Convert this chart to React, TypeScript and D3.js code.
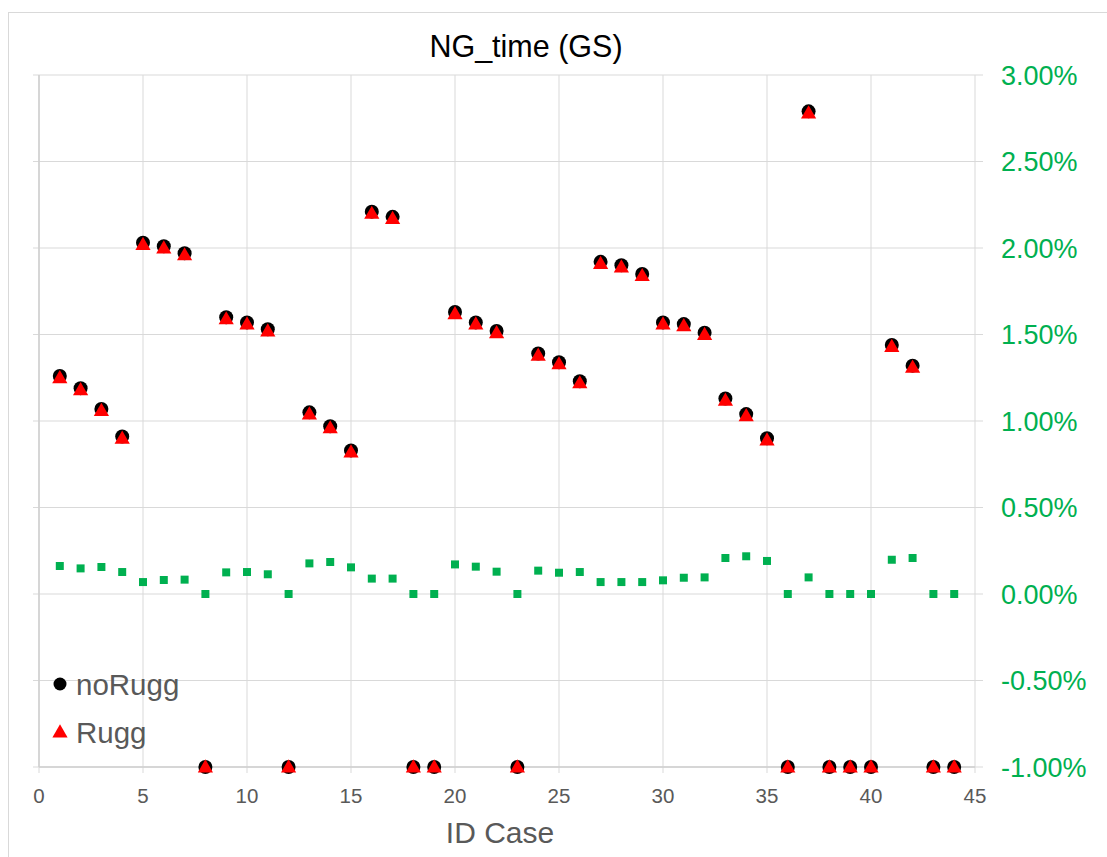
import React from "react";
import * as d3 from "d3";

// Case identifiers 1..44
const caseIds = [
  1, 2, 3, 4, 5, 6, 7, 8, 9, 10, 11, 12, 13, 14, 15, 16, 17, 18, 19, 20, 21, 22,
  23, 24, 25, 26, 27, 28, 29, 30, 31, 32, 33, 34, 35, 36, 37, 38, 39, 40, 41, 42,
  43, 44,
];

// NG_time values (%) without ruggedisation
const noRugg = [
  1.26, 1.19, 1.07, 0.91, 2.03, 2.01, 1.97, -1.0, 1.6, 1.57, 1.53, -1.0, 1.05,
  0.97, 0.83, 2.21, 2.18, -1.0, -1.0, 1.63, 1.57, 1.52, -1.0, 1.39, 1.34, 1.23,
  1.92, 1.9, 1.85, 1.57, 1.56, 1.51, 1.13, 1.04, 0.9, -1.0, 2.79, -1.0, -1.0,
  -1.0, 1.44, 1.32, -1.0, -1.0,
];

// NG_time values (%) with ruggedisation
const rugg = [
  1.25, 1.18, 1.06, 0.9, 2.02, 2.0, 1.96, -1.0, 1.59, 1.56, 1.52, -1.0, 1.04,
  0.96, 0.82, 2.2, 2.17, -1.0, -1.0, 1.62, 1.56, 1.51, -1.0, 1.38, 1.33, 1.22,
  1.91, 1.89, 1.84, 1.56, 1.55, 1.5, 1.12, 1.03, 0.89, -1.0, 2.78, -1.0, -1.0,
  -1.0, 1.43, 1.31, -1.0, -1.0,
];

// Difference between the two runs (%)
const diff = [
  0.162, 0.148, 0.156, 0.127, 0.069, 0.081, 0.083, 0.0, 0.125, 0.127, 0.114,
  0.0, 0.177, 0.185, 0.154, 0.089, 0.089, 0.0, 0.0, 0.171, 0.158, 0.129, 0.0,
  0.135, 0.123, 0.127, 0.069, 0.069, 0.069, 0.079, 0.094, 0.096, 0.208, 0.218,
  0.191, 0.0, 0.096, 0.0, 0.0, 0.0, 0.198, 0.208, 0.0, 0.0,
];

const xTicks = [0, 5, 10, 15, 20, 25, 30, 35, 40, 45];
const yTicks = [-1, -0.5, 0, 0.5, 1, 1.5, 2, 2.5, 3];

const W = 1107;
const H = 857;
const left = 39;
const right = 975;
const top = 75;
const bottom = 767;

const FONT = "'Liberation Sans', Arial, sans-serif";
const GRID = "#d9d9d9";
const GREEN = "#00b050";
const GREY = "#595959";

// plain hyphen-minus for negative tick labels
const locale = d3.formatLocale({
  decimal: ".",
  thousands: ",",
  grouping: [3],
  currency: ["", ""],
  minus: "-",
});

export default function App() {
  const x = d3.scaleLinear().domain([0, 45]).range([left, right]);
  const y = d3.scaleLinear().domain([-1, 3]).range([bottom, top]);

  const circle = d3.symbol(d3.symbolCircle, Math.PI * 7 * 7)()!;
  const tri = d3.symbol(d3.symbolTriangle, 100)()!;
  const square = d3.symbol(d3.symbolSquare, 64)()!;
  const fmt = (v: number) => locale.format(".2f")(v) + "%";

  return (
    <svg
      width={W}
      height={H}
      style={{ position: "absolute", left: 0, top: 0, background: "#fff" }}
      fontFamily={FONT}
    >
      <rect x={8.5} y={12.5} width={W + 10} height={H + 10} fill="#fff" stroke={GRID} />

      <text x={526} y={57} textAnchor="middle" fontSize={30.5} fill="#000">
        NG_time (GS)
      </text>

      {/* gridlines */}
      {xTicks.map((t) => (
        <line key={"gx" + t} x1={x(t)} x2={x(t)} y1={top} y2={bottom + 6} stroke={GRID} strokeWidth={1} />
      ))}
      {yTicks.map((t) => (
        <line key={"gy" + t} x1={left - 6} x2={right + 8} y1={y(t)} y2={y(t)} stroke={GRID} strokeWidth={1} />
      ))}
      <line x1={left} x2={left} y1={top} y2={bottom} stroke="#cfcfcf" strokeWidth={1.5} />
      <line x1={left} x2={right} y1={bottom} y2={bottom} stroke="#cfcfcf" strokeWidth={1.5} />

      {/* x tick labels */}
      {xTicks.map((t) => (
        <text key={"tx" + t} x={x(t)} y={803} textAnchor="middle" fontSize={20.5} fill={GREY}>
          {t}
        </text>
      ))}
      <text x={500} y={843} textAnchor="middle" fontSize={30} fill={GREY}>
        ID Case
      </text>

      {/* right axis labels */}
      {yTicks.map((t) => (
        <text key={"ty" + t} x={1001} y={y(t) + 9.5} textAnchor="start" fontSize={27} fill={GREEN}>
          {fmt(t)}
        </text>
      ))}

      {/* difference markers */}
      {caseIds.map((c, i) => (
        <path key={"d" + c} d={square} transform={`translate(${x(c)},${y(diff[i])})`} fill={GREEN} />
      ))}

      {/* noRugg markers */}
      {caseIds.map((c, i) => (
        <path key={"n" + c} d={circle} transform={`translate(${x(c)},${y(noRugg[i])})`} fill="#000" />
      ))}

      {/* Rugg markers */}
      {caseIds.map((c, i) => (
        <path key={"r" + c} d={tri} transform={`translate(${x(c)},${y(rugg[i]) + 1})`} fill="#ff0000" />
      ))}

      {/* legend */}
      <path d={d3.symbol(d3.symbolCircle, Math.PI * 6.5 * 6.5)()!} transform="translate(60,684)" fill="#000" />
      <text x={76} y={695} fontSize={29.5} fill={GREY}>
        noRugg
      </text>
      <path d={tri} transform="translate(60,733)" fill="#ff0000" />
      <text x={76} y={743} fontSize={29.5} fill={GREY}>
        Rugg
      </text>
    </svg>
  );
}
